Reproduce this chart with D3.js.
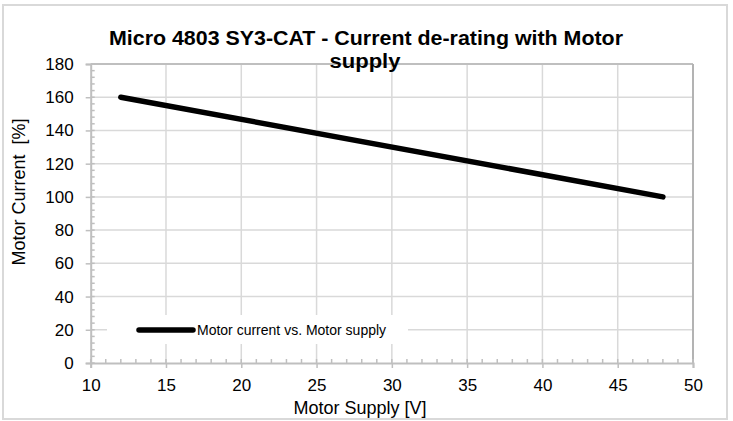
<!DOCTYPE html>
<html>
<head>
<meta charset="utf-8">
<script src="https://cdn.jsdelivr.net/npm/d3@7"></script>
<style>
  html, body { margin: 0; padding: 0; background: #fff; }
  text { font-family: Arial, "Liberation Sans", sans-serif; }
</style>
</head>
<body>
<svg id="chart" width="733" height="421"></svg>
<script>
// ---- data ----
const supplyVolts = [12, 48];
const motorCurrentPct = [160, 100];
const xTicks = [10, 15, 20, 25, 30, 35, 40, 45, 50];
const yTicks = [0, 20, 40, 60, 80, 100, 120, 140, 160, 180];
const titleLines = ["Micro 4803 SY3-CAT - Current de-rating with Motor", "supply"];
const xAxisTitle = "Motor Supply [V]";
const yAxisTitle = "Motor Current  [%]";
const seriesName = "Motor current vs. Motor supply";

const svg = d3.select("#chart");
const W = 733, H = 421;
const m = {left: 90.7, right: 693, top: 64, bottom: 363};
const FONT = "Arial, 'Liberation Sans', sans-serif";

svg.append("rect").attr("x", 0).attr("y", 0).attr("width", W).attr("height", H).attr("fill", "#fff");
svg.append("rect").attr("x", 3).attr("y", 5).attr("width", 724).attr("height", 414)
  .attr("fill", "none").attr("stroke", "#d9d9d9").attr("stroke-width", 2);

const x = d3.scaleLinear().domain([10, 50]).range([m.left, m.right]);
const y = d3.scaleLinear().domain([0, 180]).range([m.bottom, m.top]);

// gridlines
const grid = svg.append("g");
grid.selectAll(".vg").data(xTicks.slice(1, -1)).enter().append("line")
  .attr("x1", d => x(d)).attr("x2", d => x(d)).attr("y1", m.top).attr("y2", m.bottom)
  .attr("stroke", "#d9d9d9").attr("stroke-width", 1.5);
grid.selectAll(".hg").data(yTicks.slice(1, -1)).enter().append("line")
  .attr("x1", m.left).attr("x2", m.right).attr("y1", d => y(d)).attr("y2", d => y(d))
  .attr("stroke", "#d9d9d9").attr("stroke-width", 1.5);

// plot border (top/right)
svg.append("line").attr("x1", m.left).attr("x2", m.right).attr("y1", m.top).attr("y2", m.top)
  .attr("stroke", "#bfbfbf").attr("stroke-width", 2);
svg.append("line").attr("x1", m.right).attr("x2", m.right).attr("y1", m.top).attr("y2", m.bottom)
  .attr("stroke", "#b3b3b3").attr("stroke-width", 2);

// minor ticks
const xMinor = d3.range(10, 50.001, 1);
const yMinor = d3.range(0, 180.001, 4);
svg.selectAll(".xm").data(xMinor).enter().append("line")
  .attr("x1", d => x(d)).attr("x2", d => x(d)).attr("y1", m.bottom).attr("y2", m.bottom - 4)
  .attr("stroke", "#bfbfbf").attr("stroke-width", 1.5);
svg.selectAll(".ym").data(yMinor).enter().append("line")
  .attr("x1", m.left).attr("x2", m.left + 4).attr("y1", d => y(d)).attr("y2", d => y(d))
  .attr("stroke", "#bfbfbf").attr("stroke-width", 1.5);

// axes via d3
const xAxis = d3.axisBottom(x).tickValues(xTicks).tickSize(5).tickPadding(11).tickFormat(d3.format("d"));
const gx = svg.append("g").attr("transform", `translate(0,${m.bottom})`).call(xAxis);
gx.select(".domain").attr("stroke", "#bfbfbf").attr("stroke-width", 2);
gx.selectAll(".tick line").attr("stroke", "#bfbfbf").attr("stroke-width", 1.5);
gx.selectAll(".tick text").attr("font-size", 17).attr("fill", "#000").attr("font-family", FONT);

const yAxis = d3.axisLeft(y).tickValues(yTicks).tickSize(5).tickPadding(12).tickFormat(d3.format("d"));
const gy = svg.append("g").attr("transform", `translate(${m.left},0)`).call(yAxis);
gy.select(".domain").attr("stroke", "#bfbfbf").attr("stroke-width", 2);
gy.selectAll(".tick line").attr("stroke", "#bfbfbf").attr("stroke-width", 1.5);
gy.selectAll(".tick text").attr("font-size", 17).attr("fill", "#000").attr("font-family", FONT);

// legend box (covers gridlines)
const lg = svg.append("g");
lg.append("rect").attr("x", 107).attr("y", 315).attr("width", 301).attr("height", 29).attr("fill", "#fff");
lg.append("line").attr("x1", 139).attr("x2", 193).attr("y1", 330).attr("y2", 330)
  .attr("stroke", "#000").attr("stroke-width", 5.5).attr("stroke-linecap", "round");
lg.append("text").attr("x", 197).attr("y", 335).attr("font-size", 14).text(seriesName);

// data line
const pts = supplyVolts.map((v, i) => [v, motorCurrentPct[i]]);
svg.append("path").datum(pts)
  .attr("d", d3.line().x(d => x(d[0])).y(d => y(d[1])))
  .attr("fill", "none").attr("stroke", "#000").attr("stroke-width", 5.5)
  .attr("stroke-linecap", "round").attr("stroke-linejoin", "round");

// titles
svg.append("text").attr("x", 366).attr("y", 45).attr("text-anchor", "middle")
  .attr("font-size", 19.5).attr("font-weight", "bold")
  .attr("textLength", 514).attr("lengthAdjust", "spacingAndGlyphs").text(titleLines[0]);
svg.append("text").attr("x", 365).attr("y", 68).attr("text-anchor", "middle")
  .attr("font-size", 19.5).attr("font-weight", "bold")
  .attr("textLength", 71).attr("lengthAdjust", "spacingAndGlyphs").text(titleLines[1]);

svg.append("text").attr("x", 360).attr("y", 414).attr("text-anchor", "middle")
  .attr("font-size", 18).text(xAxisTitle);
svg.append("text").attr("transform", "translate(25,192) rotate(-90)").attr("text-anchor", "middle")
  .attr("font-size", 18).style("white-space", "pre").text(yAxisTitle);
</script>
</body>
</html>
